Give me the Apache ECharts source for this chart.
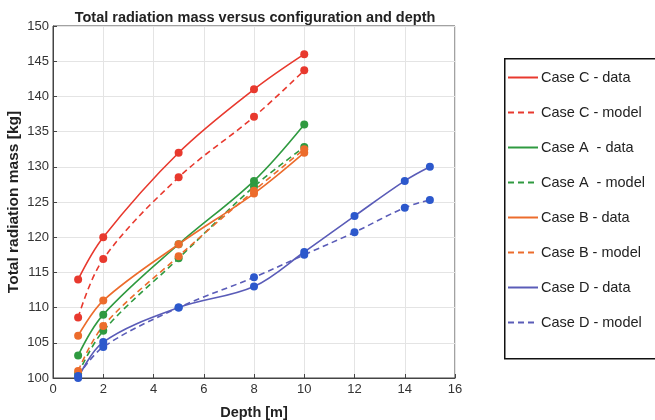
<!DOCTYPE html>
<html>
<head>
<meta charset="utf-8">
<script src="https://cdn.jsdelivr.net/npm/echarts@6/dist/echarts.min.js"></script>
<style>
  html, body { margin: 0; padding: 0; background: #fff; }
  #chart { width: 655px; height: 420px; }
</style>
</head>
<body>
<div id="chart"></div>
<script>
// depths [m]
var depthShort = [1, 2, 5, 8, 10];
var depthLong = [1, 2, 5, 8, 10, 12, 14, 15];

// total radiation mass [kg]
var caseCData = [114, 120, 132, 141, 146];
var caseCModel = [108.6, 116.9, 128.5, 137.1, 143.7];
var caseAData = [103.2, 109, 119, 128, 136];
var caseAModel = [100.6, 106.7, 117, 127.2, 132.8];
var caseBData = [106, 111, 119, 126.2, 132];
var caseBModel = [101, 107.4, 117.3, 126.6, 132.5];
var caseDData = [100, 105.1, 110, 113, 117.9, 123, 128, 130];
var caseDModel = [100.3, 104.4, 110, 114.3, 117.5, 120.7, 124.2, 125.3];

var pairs = function (xs, ys) {
    return xs.map(function (x, i) { return [x, ys[i]]; });
};

var mkSeries = function (name, xs, ys, lineColor, dotColor, dashed) {
    return {
        name: name,
        type: 'line',
        smooth: 0.35,
        data: pairs(xs, ys),
        symbol: 'circle',
        symbolSize: 8,
        lineStyle: { color: lineColor, width: 1.6, type: dashed ? [6, 4] : 'solid' },
        itemStyle: { color: dotColor },
        emphasis: { disabled: true }
    };
};

var red = '#e8392e', green = '#2f9a40', orange = '#ec6c2c';
var blueLine = '#5a5cb8', blueDot = '#2c58cc';
var font = 'Liberation Sans';

var chart = echarts.init(document.getElementById('chart'));
chart.setOption({
    animation: false,
    title: {
        text: 'Total radiation mass versus configuration and depth',
        left: 250, top: 5, textAlign: 'center',
        textStyle: { fontFamily: font, fontSize: 14.5, fontWeight: 'bold', color: '#222' }
    },
    grid: {
        left: 53, right: 200, top: 26, bottom: 42,
        outerBoundsMode: 'none', containLabel: false,
        show: true, borderColor: '#444', borderWidth: 1, backgroundColor: '#fff'
    },
    xAxis: {
        type: 'value', min: 0, max: 16, interval: 2,
        name: 'Depth [m]', nameLocation: 'middle', nameGap: 27, nameMoveOverlap: false,
        nameTextStyle: { fontFamily: font, fontSize: 14.5, fontWeight: 'bold', color: '#222' },
        axisLine: { show: true, lineStyle: { color: '#444' } },
        axisTick: { show: true, inside: true, length: 4, lineStyle: { color: '#444' } },
        axisLabel: { fontFamily: font, fontSize: 13, color: '#333', margin: 5 },
        splitLine: { show: true, lineStyle: { color: '#e4e4e4' } }
    },
    yAxis: {
        type: 'value', min: 100, max: 150, interval: 5,
        name: 'Total radiation mass [kg]', nameLocation: 'middle', nameGap: 31, nameMoveOverlap: false,
        nameTextStyle: { fontFamily: font, fontSize: 15.5, fontWeight: 'bold', color: '#222' },
        axisLine: { show: true, lineStyle: { color: '#444' } },
        axisTick: { show: true, inside: true, length: 4, lineStyle: { color: '#444' } },
        axisLabel: { fontFamily: font, fontSize: 13, color: '#333', margin: 4 },
        splitLine: { show: true, lineStyle: { color: '#e4e4e4' } }
    },
    legend: {
        orient: 'vertical', left: 502, top: 65,
        itemWidth: 30, itemHeight: 16, itemGap: 20,
        itemStyle: { opacity: 0 },
        textStyle: { fontFamily: font, fontSize: 14.5, color: '#222', padding: [0, 0, 0, -2] },
        data: ['Case C - data', 'Case C - model', 'Case A  - data', 'Case A  - model',
               'Case B - data', 'Case B - model', 'Case D - data', 'Case D - model']
    },
    graphic: [{
        type: 'rect', left: 504, top: 58, z: -1,
        shape: { width: 160, height: 300 },
        style: { fill: '#fff', stroke: '#111', lineWidth: 1.5 }
    }],
    series: [
        mkSeries('Case C - data', depthShort, caseCData, red, red, false),
        mkSeries('Case C - model', depthShort, caseCModel, red, red, true),
        mkSeries('Case A  - data', depthShort, caseAData, green, green, false),
        mkSeries('Case A  - model', depthShort, caseAModel, green, green, true),
        mkSeries('Case B - data', depthShort, caseBData, orange, orange, false),
        mkSeries('Case B - model', depthShort, caseBModel, orange, orange, true),
        mkSeries('Case D - data', depthLong, caseDData, blueLine, blueDot, false),
        mkSeries('Case D - model', depthLong, caseDModel, blueLine, blueDot, true)
    ]
});
</script>
</body>
</html>
